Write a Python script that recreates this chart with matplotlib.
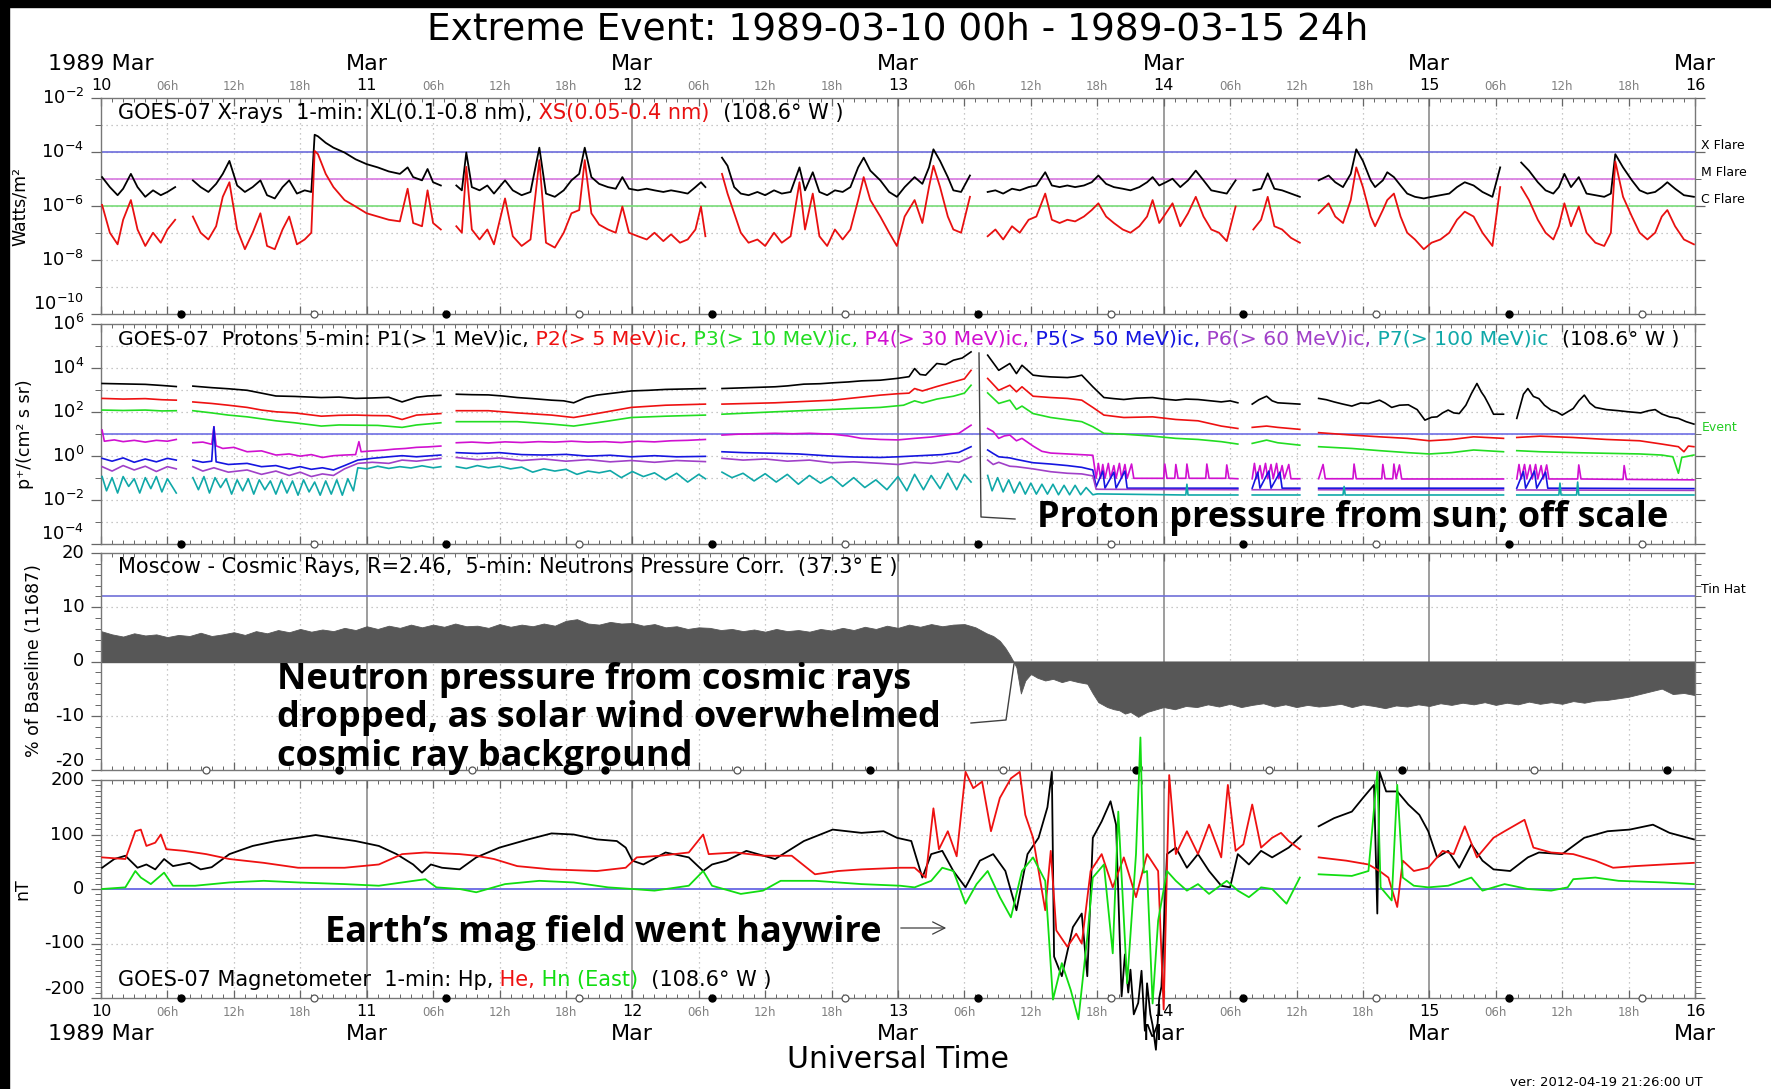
import numpy as np
import matplotlib
matplotlib.use("Agg")
import matplotlib.pyplot as plt
from matplotlib import transforms
from matplotlib.lines import Line2D
from matplotlib.patches import Rectangle, FancyArrowPatch
from matplotlib.ticker import FixedLocator, MultipleLocator

plt.rcParams['font.family'] = ['DejaVu Sans']
plt.rcParams['mathtext.fontset'] = 'dejavusans'
plt.rcParams['axes.unicode_minus'] = False

nan = np.nan

# time axis: hours after 1989-03-10 00h UT
DAY_LABELS = ['10', '11', '12', '13', '14', '15', '16']
MONTH_LABELS = ['1989 Mar', 'Mar', 'Mar', 'Mar', 'Mar', 'Mar', 'Mar']
HOUR_LABELS = ['06h', '12h', '18h']

# local midnight (filled) / noon (open) markers
GOES_MIDNIGHT = [7.2, 31.2, 55.2, 79.2, 103.2, 127.2]
GOES_NOON = [19.2, 43.2, 67.2, 91.2, 115.2, 139.2]
MOSCOW_NOON = [9.5, 33.5, 57.5, 81.5, 105.5, 129.5]
MOSCOW_MIDNIGHT = [21.5, 45.5, 69.5, 93.5, 117.5, 141.5]

# GOES-07 X-rays: (hour, log10 XL, log10 XS) in W/m^2
XRAY = [
    (0.1, -4.93, -5.96), (0.8, -5.30, -6.99), (1.5, -5.60, -7.42), (2.0, -5.36, -6.51), (2.7, -4.81, -5.78),
    (3.3, -5.30, -6.87), (4.0, -5.66, -7.48), (4.7, -5.42, -6.99), (5.4, -5.60, -7.36), (6.0, -5.48, -6.87),
    (6.7, -5.30, -6.51), (7.5, nan, nan),
    (8.3, -5.05, -6.39), (9.0, -5.30, -6.99), (9.7, -5.48, -7.24), (10.4, -5.18, -6.75), (11.0, -4.81, -5.66),
    (11.6, -4.33, -5.12), (12.3, -5.24, -6.87), (13.0, -5.48, -7.60), (13.7, -5.30, -6.99), (14.4, -5.05, -6.27),
    (15.0, -5.60, -7.48), (15.7, -5.72, -7.60), (16.4, -5.30, -6.87), (17.0, -5.05, -6.39), (17.7, -5.54, -7.42),
    (18.4, -5.42, -7.24), (19.0, -5.48, -6.99),
    (19.3, -3.36, -3.96), (19.6, -3.42, -4.08), (20.3, -3.66, -4.81), (21.0, -3.84, -5.30), (22.0, -4.02, -5.78),
    (23.0, -4.27, -6.02), (24.0, -4.45, -6.27), (25.0, -4.57, -6.39), (26.0, -4.72, -6.51), (27.0, -4.81, -6.57),
    (27.7, -4.57, -5.36), (28.2, -4.93, -6.63), (29.0, -5.05, -6.75), (29.5, -4.63, -5.42), (30.0, -5.12, -6.63),
    (30.7, -5.24, -6.87), (31.3, nan, nan),
    (32.1, -5.24, -6.75), (32.6, -5.42, -6.99), (33.0, -4.02, -4.55), (33.5, -5.30, -6.87), (34.2, -5.42, -7.24),
    (34.9, -5.24, -6.87), (35.5, -5.54, -7.42), (36.5, -5.05, -5.72), (37.2, -5.42, -7.12), (38.0, -5.60, -7.48),
    (38.8, -5.48, -7.24), (39.6, -3.84, -4.30), (40.2, -5.54, -7.36), (41.0, -5.66, -7.54), (41.8, -5.42, -6.99),
    (42.5, -5.05, -6.27), (43.2, -4.81, -6.15), (43.7, -3.84, -4.30), (44.3, -4.93, -6.27), (45.0, -5.18, -6.69),
    (45.8, -5.30, -6.87), (46.5, -5.36, -6.99), (47.1, -4.93, -6.02), (47.7, -5.36, -6.99), (48.5, -5.42, -7.12),
    (49.3, -5.36, -7.24), (50.0, -5.42, -6.99), (50.8, -5.48, -7.30), (51.5, -5.42, -7.05), (52.3, -5.48, -7.36),
    (53.0, -5.54, -7.24), (53.7, -5.30, -6.87), (54.2, -5.12, -6.02), (54.6, -5.30, -7.12), (55.3, nan, nan),
    (56.1, -4.21, -4.81), (56.6, -4.51, -5.54), (57.2, -5.30, -6.27), (57.8, -5.54, -6.99), (58.5, -5.60, -7.36),
    (59.3, -5.48, -7.24), (60.0, -5.60, -7.48), (60.8, -5.42, -6.99), (61.5, -5.54, -7.36), (62.3, -5.48, -7.12),
    (63.1, -4.57, -5.12), (63.6, -5.42, -6.87), (64.3, -4.75, -5.54), (64.9, -5.48, -7.12), (65.6, -5.60, -7.48),
    (66.3, -5.42, -6.87), (67.0, -5.48, -7.24), (67.7, -5.30, -6.87), (68.4, -4.57, -5.78), (68.9, -4.21, -4.93),
    (69.5, -4.69, -5.78), (70.4, -5.05, -6.39), (71.2, -5.48, -6.99), (71.9, -5.66, -7.48), (72.6, -5.30, -6.39),
    (73.5, -4.93, -5.78), (74.2, -5.18, -6.63), (74.8, -4.57, -5.30), (75.2, -3.90, -4.51), (75.8, -4.33, -5.30),
    (76.5, -4.93, -6.39), (77.0, -5.42, -6.87), (77.7, -5.48, -6.99), (78.5, -4.87, -5.66), (79.3, nan, nan),
    (80.1, -5.48, -7.12), (80.8, -5.42, -6.87), (81.5, -5.54, -7.24), (82.3, -5.36, -6.75), (83.0, -5.42, -6.99),
    (83.8, -5.30, -6.51), (84.5, -5.24, -6.39), (85.3, -4.75, -5.54), (85.9, -5.24, -6.51), (86.6, -5.30, -6.63),
    (87.3, -5.24, -6.51), (88.0, -5.30, -6.57), (88.8, -5.24, -6.39), (89.5, -5.12, -6.15), (90.1, -4.87, -5.90),
    (90.8, -5.18, -6.39), (91.5, -5.30, -6.63), (92.3, -5.36, -6.87), (93.0, -5.42, -6.99), (93.8, -5.30, -6.75),
    (94.5, -5.12, -6.39), (95.0, -4.93, -5.78), (95.6, -5.24, -6.63), (96.2, -5.12, -6.27), (96.8, -4.99, -5.90),
    (97.5, -5.30, -6.75), (98.2, -5.05, -6.27), (98.9, -4.69, -5.66), (99.6, -5.05, -6.39), (100.3, -5.42, -6.87),
    (101.0, -5.48, -6.99), (101.7, -5.54, -7.30), (102.5, -5.05, -6.02), (103.3, nan, nan),
    (104.1, -5.42, -6.87), (104.8, -5.36, -6.51), (105.4, -4.79, -5.66), (106.0, -5.36, -6.75), (106.7, -5.42, -6.87),
    (107.5, -5.54, -7.18), (108.3, -5.66, -7.36), (109.1, nan, nan),
    (110.0, -5.05, -6.27), (110.9, -4.87, -5.90), (111.5, -5.12, -6.39), (112.2, -5.30, -6.63), (112.9, -4.81, -5.78),
    (113.4, -3.90, -4.57), (114.0, -4.33, -5.30), (114.7, -5.05, -6.39), (115.1, -5.30, -6.75), (115.8, -5.05, -6.15),
    (116.2, -4.75, -5.78), (116.8, -4.93, -5.54), (117.4, -5.24, -6.39), (118.0, -5.54, -6.99), (118.7, -5.66, -7.24),
    (119.5, -5.72, -7.60), (120.2, -5.66, -7.36), (121.0, -5.60, -7.24), (121.8, -5.54, -6.99), (122.5, -5.30, -6.51),
    (123.2, -5.12, -6.21), (124.0, -5.24, -6.39), (124.8, -5.48, -6.99), (125.7, -5.66, -7.48), (126.4, -4.57, -5.30),
    (127.3, nan, nan),
    (128.3, -4.39, -5.30), (129.0, -4.69, -5.78), (129.8, -5.12, -6.51), (130.5, -5.42, -6.99), (131.2, -5.54, -7.24),
    (131.7, -5.30, -6.75), (132.2, -4.81, -5.90), (132.8, -5.30, -6.75), (133.5, -4.93, -6.02), (134.2, -5.54, -6.99),
    (135.0, -5.60, -7.36), (135.8, -5.66, -7.48), (136.4, -5.54, -6.99), (136.8, -4.08, -4.35), (137.5, -4.57, -5.66),
    (138.3, -5.05, -6.39), (139.0, -5.42, -6.99), (139.7, -5.54, -7.24), (140.4, -5.48, -6.99), (141.0, -5.30, -6.39),
    (141.5, -5.12, -6.15), (142.2, -5.36, -6.75), (143.0, -5.60, -7.24), (143.9, -5.66, -7.42),
]

# GOES-07 protons: (hour, log10 flux)
P1 = [
    (0.1, 3.29), (2.0, 3.27), (4.0, 3.25), (5.5, 3.20), (6.8, 3.15), (7.5, nan),
    (8.3, 3.17), (10.0, 3.10), (11.5, 3.05), (13.2, 2.98), (14.5, 2.85), (15.8, 2.72), (17.5, 2.70), (19.9, 2.65),
    (21.5, 2.67), (23.0, 2.61), (24.5, 2.63), (26.0, 2.66), (27.2, 2.45), (28.5, 2.66), (29.5, 2.72), (30.7, 2.75),
    (31.3, nan),
    (32.1, 2.80), (33.5, 2.78), (35.0, 2.77), (36.3, 2.72), (37.6, 2.65), (39.0, 2.60), (40.7, 2.53), (41.8, 2.50),
    (42.7, 2.41), (43.8, 2.65), (44.8, 2.76), (46.3, 2.85), (47.9, 2.95), (49.5, 2.98), (51.0, 3.02), (53.0, 3.04),
    (54.6, 3.06), (55.3, nan),
    (56.1, 3.06), (58.5, 3.10), (60.9, 3.14), (62.0, 3.18), (63.5, 3.26), (65.0, 3.28), (66.1, 3.32), (67.5, 3.36),
    (68.7, 3.41), (70.4, 3.44), (71.9, 3.52), (73.0, 3.60), (73.5, 3.97), (74.0, 3.70), (74.5, 3.67), (75.5, 4.20),
    (76.3, 4.15), (77.0, 4.35), (77.8, 4.45), (78.6, 4.73), (79.3, nan),
    (80.1, 4.58), (81.1, 3.89), (82.1, 4.20), (82.7, 3.74), (83.2, 4.12), (84.2, 3.67), (85.0, 3.62), (85.8, 3.59),
    (87.3, 3.56), (88.0, 3.60), (88.6, 3.67), (89.6, 3.14), (90.6, 2.65), (91.5, 2.60), (92.4, 2.56), (93.5, 2.62),
    (95.0, 2.65), (96.0, 2.58), (97.1, 2.53), (98.0, 2.58), (99.1, 2.56), (100.2, 2.50), (101.2, 2.45), (102.0, 2.50),
    (102.7, 2.41), (103.3, nan),
    (104.0, 2.35), (104.6, 2.55), (105.3, 2.71), (105.8, 2.50), (106.3, 2.41), (107.3, 2.38), (108.3, 2.35),
    (109.1, nan),
    (110.0, 2.61), (110.7, 2.55), (111.4, 2.45), (112.2, 2.35), (113.0, 2.26), (113.8, 2.40), (114.5, 2.38),
    (115.5, 2.53), (116.0, 2.40), (116.6, 2.20), (117.3, 2.30), (118.1, 2.32), (118.9, 2.10), (119.6, 1.62),
    (120.2, 1.75), (120.7, 1.77), (121.2, 1.95), (121.7, 2.08), (122.2, 1.95), (122.7, 1.92), (123.3, 2.30),
    (123.8, 2.83), (124.3, 3.29), (124.7, 2.90), (125.0, 2.68), (125.4, 2.30), (125.8, 1.89), (126.7, 1.89),
    (127.3, nan),
    (127.9, 1.70), (128.5, 2.80), (128.9, 3.06), (129.4, 2.70), (129.9, 2.60), (130.4, 2.30), (131.0, 2.08),
    (131.5, 2.00), (132.0, 1.85), (132.5, 2.00), (133.0, 2.15), (133.5, 2.50), (134.0, 2.76), (134.5, 2.40),
    (135.0, 2.20), (136.0, 2.10), (137.1, 2.05), (138.0, 2.00), (139.1, 1.95), (139.8, 2.05), (140.4, 2.10),
    (141.0, 1.90), (141.7, 1.77), (142.5, 1.70), (143.2, 1.55), (143.9, 1.44),
]
P2 = [
    (0.1, 2.61), (2.0, 2.58), (4.0, 2.60), (5.5, 2.55), (6.8, 2.53), (7.5, nan),
    (8.3, 2.45), (10.0, 2.38), (11.5, 2.30), (13.2, 2.20), (14.5, 2.08), (15.8, 2.00), (17.5, 1.95), (19.9, 1.80),
    (21.5, 1.84), (23.0, 1.85), (24.5, 1.83), (26.0, 1.82), (27.2, 1.65), (28.5, 1.85), (30.7, 1.92), (31.3, nan),
    (32.1, 2.05), (35.0, 2.05), (37.6, 1.95), (40.7, 1.85), (42.7, 1.74), (44.8, 1.92), (47.9, 2.20), (51.0, 2.30),
    (54.6, 2.35), (55.3, nan),
    (56.1, 2.35), (60.9, 2.41), (66.1, 2.53), (70.4, 2.76), (71.9, 2.82), (73.0, 2.85), (73.5, 3.06), (74.2, 2.95),
    (75.5, 3.15), (77.0, 3.36), (78.0, 3.50), (78.6, 3.89), (79.3, nan),
    (80.1, 3.52), (81.1, 2.98), (82.1, 3.21), (82.7, 2.91), (83.2, 3.14), (84.2, 2.71), (85.8, 2.65), (87.3, 2.61),
    (88.6, 2.53), (89.6, 2.20), (90.6, 1.85), (92.4, 1.74), (95.0, 1.77), (97.1, 1.65), (99.1, 1.59), (101.2, 1.35),
    (102.7, 1.24), (103.3, nan),
    (104.0, 1.29), (105.3, 1.35), (106.3, 1.29), (108.3, 1.20), (109.1, nan),
    (110.0, 1.05), (113.0, 0.94), (115.5, 0.86), (118.0, 0.79), (120.0, 0.68), (122.0, 0.74), (124.0, 0.86),
    (126.7, 0.79), (127.3, nan),
    (127.9, 0.83), (130.0, 0.89), (133.0, 0.83), (136.0, 0.74), (139.0, 0.68), (141.0, 0.53), (142.5, 0.41),
    (143.0, 0.18), (143.4, 0.44), (143.9, 0.41),
]
P3 = [
    (0.1, 2.08), (2.0, 2.06), (4.0, 2.08), (5.5, 2.04), (6.8, 2.05), (7.5, nan),
    (8.3, 2.05), (10.0, 1.95), (11.5, 1.85), (13.2, 1.77), (14.5, 1.68), (15.8, 1.59), (17.5, 1.50), (19.9, 1.35),
    (21.5, 1.40), (23.0, 1.39), (25.0, 1.38), (27.2, 1.29), (28.5, 1.40), (30.7, 1.50), (31.3, nan),
    (32.1, 1.55), (35.0, 1.55), (37.6, 1.55), (40.7, 1.44), (42.7, 1.35), (44.8, 1.50), (47.9, 1.74), (51.0, 1.80),
    (54.6, 1.85), (55.3, nan),
    (56.1, 1.89), (60.9, 2.00), (66.1, 2.11), (70.4, 2.20), (72.5, 2.30), (73.5, 2.50), (74.2, 2.40), (75.5, 2.58),
    (77.0, 2.71), (78.0, 2.85), (78.6, 3.21), (79.3, nan),
    (80.1, 2.86), (81.1, 2.38), (82.1, 2.53), (82.7, 2.11), (83.2, 2.26), (84.2, 1.92), (85.8, 1.74), (88.6, 1.55),
    (89.6, 1.32), (90.6, 1.02), (92.4, 0.98), (95.0, 0.89), (97.1, 0.79), (99.1, 0.74), (101.2, 0.64), (102.7, 0.53),
    (103.3, nan),
    (104.0, 0.56), (105.3, 0.71), (106.3, 0.59), (108.3, 0.48), (109.1, nan),
    (110.0, 0.41), (113.0, 0.33), (115.5, 0.23), (118.0, 0.14), (120.0, 0.08), (122.0, 0.14), (124.0, 0.26),
    (126.7, 0.18), (127.3, nan),
    (127.9, 0.23), (130.0, 0.18), (133.0, 0.14), (136.0, 0.11), (139.0, 0.08), (141.0, 0.03), (142.0, -0.05),
    (142.5, -0.80), (142.8, -0.08), (143.9, 0.03),
]
P4 = [
    (0.1, 1.17), (0.3, 0.66), (1.2, 0.72), (2.0, 0.64), (3.0, 0.70), (4.0, 0.62), (5.0, 0.70), (6.0, 0.66),
    (6.8, 0.74), (7.5, nan),
    (8.3, 0.59), (9.2, 0.62), (10.0, 0.52), (10.2, 1.32), (10.4, 0.45), (11.0, 0.33), (12.0, 0.38), (13.2, 0.18),
    (14.5, 0.22), (15.8, 0.03), (17.0, 0.08), (18.0, -0.02), (19.0, 0.05), (20.0, -0.08), (21.0, 0.00), (22.0, 0.03),
    (23.0, 0.05), (23.3, 0.64), (23.5, 0.18), (24.5, 0.22), (25.5, 0.25), (26.5, 0.30), (27.5, 0.33), (28.5, 0.38),
    (29.5, 0.40), (30.7, 0.44), (31.3, nan),
    (32.1, 0.59), (33.5, 0.62), (35.0, 0.58), (36.5, 0.63), (38.0, 0.60), (39.5, 0.64), (41.0, 0.62), (42.5, 0.66),
    (44.0, 0.62), (45.5, 0.64), (47.0, 0.60), (48.5, 0.66), (50.0, 0.63), (51.5, 0.68), (53.0, 0.70), (54.6, 0.74),
    (55.3, nan),
    (56.1, 0.94), (57.5, 0.98), (59.0, 1.00), (60.9, 1.02), (62.5, 1.00), (64.0, 1.02), (66.1, 0.98), (67.5, 0.90),
    (68.7, 0.79), (70.4, 0.74), (72.0, 0.72), (73.5, 0.79), (75.0, 0.85), (76.5, 0.95), (77.5, 1.02), (78.6, 1.39),
    (79.3, nan),
    (80.1, 1.24), (80.6, 1.10), (81.1, 0.79), (81.6, 0.90), (82.1, 0.94), (82.7, 0.68), (83.2, 0.79), (84.2, 0.44),
    (85.0, 0.20), (85.8, 0.12), (87.3, 0.08), (88.6, 0.05), (89.6, 0.02),
    (89.9, -1.03), (90.1, -0.35), (90.3, -1.03), (90.5, -0.40), (90.7, -1.03), (91.0, -0.35), (91.2, -1.03),
    (91.5, -0.45), (91.7, -1.03), (92.0, -0.35), (92.2, -1.03), (92.5, -0.40), (92.7, -1.03), (93.1, -0.38),
    (93.3, -1.03), (96.0, -1.03), (96.1, -0.38), (96.3, -1.03), (97.0, -1.03), (97.1, -0.40), (97.3, -1.03),
    (98.0, -1.03), (98.1, -0.38), (98.3, -1.03), (99.8, -1.03), (99.9, -0.38), (100.1, -1.03), (101.6, -1.03),
    (101.7, -0.42), (101.9, -1.03), (102.7, -1.05), (103.3, nan),
    (104.0, -1.05), (104.2, -0.35), (104.4, -1.05), (104.7, -0.45), (104.9, -1.05), (105.2, -0.35), (105.4, -1.05),
    (105.7, -0.40), (105.9, -1.05), (106.2, -0.35), (106.4, -1.05), (106.7, -0.45), (106.9, -1.05), (107.3, -0.40),
    (107.5, -1.05), (108.3, -1.05), (109.1, nan),
    (110.0, -1.05), (110.4, -0.40), (110.6, -1.05), (113.1, -1.05), (113.2, -0.38), (113.4, -1.05), (115.7, -1.05),
    (115.8, -0.40), (116.0, -1.05), (116.7, -1.05), (116.8, -0.38), (117.0, -1.05), (117.3, -0.42), (117.5, -1.06),
    (126.7, -1.06), (127.3, nan),
    (127.9, -1.06), (128.1, -0.40), (128.3, -1.06), (128.6, -0.40), (128.8, -1.06), (129.1, -0.42), (129.3, -1.06),
    (129.6, -0.40), (129.8, -1.06), (130.1, -0.45), (130.3, -1.06), (130.6, -0.42), (130.8, -1.06), (133.4, -1.06),
    (133.5, -0.42), (133.7, -1.06), (137.5, -1.08), (137.6, -0.45), (137.8, -1.08), (143.9, -1.10),
]
P5 = [
    (0.1, -0.12), (1.0, -0.25), (2.0, -0.10), (3.0, -0.30), (4.0, -0.15), (5.0, -0.28), (6.0, -0.12), (6.8, -0.20),
    (7.5, nan),
    (8.3, -0.20), (9.2, -0.30), (10.0, -0.25), (10.2, 1.32), (10.4, -0.28), (11.5, -0.40), (13.2, -0.35),
    (14.5, -0.50), (15.8, -0.45), (17.0, -0.60), (18.0, -0.50), (19.0, -0.62), (20.0, -0.55), (21.0, -0.65),
    (22.0, -0.45), (23.2, -0.20), (24.5, -0.12), (26.0, -0.05), (27.2, 0.00), (28.5, -0.05), (30.7, 0.03),
    (31.3, nan),
    (32.1, 0.14), (34.0, 0.10), (36.0, 0.14), (38.0, 0.05), (40.0, 0.03), (42.0, 0.06), (44.0, -0.02), (46.0, 0.02),
    (47.9, -0.05), (50.0, 0.00), (52.0, -0.05), (54.6, -0.03), (55.3, nan),
    (56.1, 0.18), (58.0, 0.14), (60.9, 0.11), (63.0, 0.08), (66.1, -0.02), (68.0, -0.06), (70.4, -0.08),
    (72.0, -0.05), (74.0, 0.00), (76.0, 0.05), (77.5, 0.15), (78.6, 0.41), (79.3, nan),
    (80.1, 0.26), (80.6, 0.10), (81.1, -0.05), (82.1, -0.10), (82.7, -0.17), (84.2, -0.32), (85.8, -0.38),
    (87.3, -0.45), (88.6, -0.53), (89.6, -0.65),
    (89.9, -1.41), (90.5, -0.70), (90.7, -1.48), (91.5, -0.75), (91.7, -1.48), (92.5, -0.70), (92.7, -1.48),
    (102.7, -1.48), (103.3, nan),
    (104.0, -1.48), (104.5, -0.75), (104.7, -1.48), (105.5, -0.70), (105.7, -1.48), (106.5, -0.75), (106.7, -1.48),
    (108.3, -1.48), (109.1, nan),
    (110.0, -1.48), (126.7, -1.48), (127.3, nan),
    (127.9, -1.48), (128.5, -0.72), (128.7, -1.48), (129.5, -0.70), (129.7, -1.48), (130.5, -0.75), (130.7, -1.48),
    (143.9, -1.50),
]
P6 = [
    (0.1, -0.50), (1.0, -0.70), (2.0, -0.45), (3.0, -0.65), (4.0, -0.48), (5.0, -0.72), (6.0, -0.50), (6.8, -0.60),
    (7.5, nan),
    (8.3, -0.50), (9.2, -0.70), (10.2, -0.55), (11.5, -0.75), (13.2, -0.65), (14.5, -0.85), (15.8, -0.70),
    (17.0, -0.90), (18.0, -0.75), (19.0, -0.95), (20.0, -0.83), (21.0, -0.90), (22.0, -0.60), (23.2, -0.35),
    (24.5, -0.30), (26.0, -0.35), (27.2, -0.20), (28.5, -0.25), (30.7, -0.12), (31.3, nan),
    (32.1, -0.08), (34.0, -0.18), (36.0, -0.10), (38.0, -0.22), (40.0, -0.15), (42.0, -0.25), (44.0, -0.18),
    (46.0, -0.28), (47.9, -0.22), (50.0, -0.30), (52.0, -0.22), (54.6, -0.27), (55.3, nan),
    (56.1, -0.12), (58.0, -0.20), (60.0, -0.15), (62.0, -0.25), (64.0, -0.20), (66.0, -0.32), (68.0, -0.28),
    (70.4, -0.35), (72.0, -0.40), (73.5, -0.30), (75.0, -0.35), (76.5, -0.25), (77.5, -0.30), (78.6, -0.05),
    (79.3, nan),
    (80.1, -0.20), (80.6, -0.40), (81.1, -0.30), (82.1, -0.48), (82.7, -0.50), (84.2, -0.60), (85.8, -0.73),
    (87.3, -0.80), (88.6, -0.83), (89.6, -0.92),
    (89.9, -1.53), (102.7, -1.55), (103.3, nan), (104.0, -1.55), (108.3, -1.55), (109.1, nan),
    (110.0, -1.55), (126.7, -1.56), (127.3, nan), (127.9, -1.56), (143.9, -1.58),
]
P7 = [
    (0.1, -0.95), (0.5, -1.60), (1.0, -1.00), (1.5, -1.70), (2.0, -0.95), (2.5, -1.40), (3.0, -1.05), (3.5, -1.70),
    (4.0, -1.00), (4.5, -1.50), (5.0, -0.95), (5.5, -1.65), (6.0, -1.05), (6.8, -1.70), (7.5, nan),
    (8.3, -1.00), (8.8, -1.55), (9.3, -0.95), (9.8, -1.70), (10.3, -1.00), (10.8, -1.45), (11.3, -1.05),
    (11.8, -1.75), (12.3, -1.10), (12.8, -1.60), (13.3, -1.05), (13.8, -1.75), (14.3, -1.10), (14.8, -1.55),
    (15.3, -1.15), (15.8, -1.75), (16.3, -1.10), (16.8, -1.70), (17.3, -1.15), (17.8, -1.80), (18.3, -1.10),
    (18.8, -1.65), (19.3, -1.20), (19.8, -1.80), (20.3, -1.15), (20.8, -1.75), (21.3, -1.10), (21.8, -1.80),
    (22.3, -1.05), (22.8, -1.60), (23.2, -0.55), (24.0, -0.60), (25.0, -0.48), (26.0, -0.58), (27.0, -0.50),
    (28.0, -0.56), (29.0, -0.46), (30.0, -0.55), (30.7, -0.50), (31.3, nan),
    (32.1, -0.50), (33.0, -0.58), (34.0, -0.45), (35.0, -0.55), (36.0, -0.48), (37.0, -0.60), (38.0, -0.52),
    (39.0, -0.75), (40.0, -0.60), (41.0, -0.70), (42.0, -0.62), (43.0, -0.85), (44.0, -0.70), (45.0, -0.78),
    (46.0, -0.68), (47.0, -1.00), (48.0, -0.72), (49.0, -0.95), (50.0, -0.78), (51.0, -1.10), (52.0, -0.80),
    (53.0, -1.20), (54.0, -0.85), (54.6, -1.05), (55.3, nan),
    (56.1, -0.75), (57.0, -1.00), (58.0, -0.80), (59.0, -1.15), (60.0, -0.82), (61.0, -1.20), (62.0, -0.85),
    (63.0, -1.30), (64.0, -0.90), (65.0, -1.25), (66.0, -0.95), (67.0, -1.40), (68.0, -1.00), (69.0, -1.45),
    (70.0, -1.10), (71.0, -1.55), (72.0, -0.95), (72.8, -1.60), (73.5, -0.85), (74.3, -1.55), (75.0, -0.90),
    (75.8, -1.50), (76.5, -0.80), (77.3, -1.55), (78.0, -0.85), (78.6, -1.20), (79.3, nan),
    (80.1, -0.90), (80.5, -1.60), (81.0, -1.00), (81.5, -1.65), (82.0, -1.10), (82.5, -1.70), (83.0, -1.20),
    (83.5, -1.75), (84.0, -1.25), (84.5, -1.75), (85.0, -1.30), (85.5, -1.75), (86.0, -1.30), (86.5, -1.78),
    (87.0, -1.35), (87.5, -1.78), (88.0, -1.35), (88.5, -1.78), (89.0, -1.45), (89.6, -1.78),
    (90.0, -1.74), (98.0, -1.79), (98.1, -1.30), (98.2, -1.79), (102.7, -1.79), (103.3, nan),
    (104.0, -1.79), (108.3, -1.79), (109.1, nan),
    (110.0, -1.79), (112.2, -1.79), (112.3, -1.40), (112.4, -1.79), (126.7, -1.79), (127.3, nan),
    (127.9, -1.79), (131.7, -1.79), (131.8, -1.25), (131.9, -1.79), (133.3, -1.79), (133.4, -1.20), (133.5, -1.79),
    (143.9, -1.79),
]

# Moscow neutron monitor, % of baseline
NEUTRON = [
    (0, 5.6), (1, 5.0), (2, 4.6), (3, 5.2), (4, 4.8), (5, 5.0), (6, 4.5), (7, 4.9), (8, 4.7), (9, 5.3), (10, 4.7),
    (11, 5.0), (12, 5.4), (13, 4.9), (14, 5.6), (15, 5.2), (16, 5.8), (17, 5.4), (18, 6.0), (19, 5.5), (20, 5.9),
    (21, 5.6), (22, 6.2), (23, 5.8), (24, 6.5), (25, 6.0), (26, 6.6), (27, 6.2), (28, 6.8), (29, 6.3), (30, 6.8),
    (31, 6.4), (32, 7.0), (33, 6.5), (34, 6.6), (35, 6.2), (36, 6.9), (37, 6.4), (38, 6.8), (39, 6.5), (40, 7.0),
    (41, 6.6), (42, 7.5), (43, 7.8), (44, 7.0), (45, 6.8), (46, 7.3), (47, 7.0), (48, 7.1), (49, 6.6), (50, 6.9),
    (51, 6.3), (52, 6.5), (53, 6.0), (54, 6.3), (55, 6.2), (56, 5.8), (57, 6.0), (58, 5.6), (59, 5.9), (60, 5.5),
    (61, 6.0), (62, 5.6), (63, 5.8), (64, 5.5), (65, 6.0), (66, 5.7), (67, 6.2), (68, 5.8), (69, 6.4), (70, 6.0),
    (71, 6.6), (72, 6.2), (73, 6.8), (74, 6.4), (75, 6.9), (76, 6.5), (77, 6.8), (78, 6.9), (79, 6.3), (80, 5.2),
    (80.6, 4.7), (81.2, 3.8), (81.7, 2.5), (82.1, 1.2), (82.4, 0.1), (82.7, -1.1), (83.1, -5.9), (83.5, -3.5),
    (84.0, -2.3), (84.6, -3.0), (85.3, -3.5), (86.0, -3.2), (86.8, -3.8), (87.5, -3.4), (88.3, -3.8), (89.1, -4.1),
    (89.6, -5.9), (90.1, -7.5), (90.9, -8.4), (91.5, -8.8), (92.0, -9.0), (92.5, -9.6), (93.0, -9.3), (93.7, -10.2),
    (94.5, -9.3), (95.5, -8.7),
    (96, -8.4), (97, -8.8), (98, -8.2), (99, -8.4), (100, -7.9), (101, -8.3), (102, -7.8), (103, -8.4), (104, -8.0),
    (105, -7.7), (106, -8.3), (107, -7.9), (108, -8.4), (109, -8.0), (110, -8.3), (111, -8.1), (112, -7.8),
    (113, -8.4), (114, -7.9), (115, -8.2), (116, -8.6), (117, -8.1), (118, -8.3), (119, -7.9), (120, -8.2),
    (121, -7.7), (122, -8.0), (123, -7.6), (124, -7.9), (125, -7.5), (126, -8.0), (127, -7.6), (128, -7.9),
    (129, -7.4), (130, -7.8), (131, -7.5), (132, -7.8), (133, -7.3), (134, -7.6), (135, -7.2), (136, -7.1),
    (137, -6.8), (138, -6.5), (139, -6.0), (140, -5.5), (141, -5.0), (142, -6.0), (143, -5.8), (144, -6.2),
]

# GOES-07 magnetometer, nT
HP = [
    (0.1, 39), (1.2, 55), (2.2, 61), (3.3, 39), (4.1, 45), (4.9, 36), (5.7, 55), (6.5, 42), (8.0, 48), (9.0, 36),
    (10.0, 40), (11.6, 64), (13.7, 79), (15.8, 88), (17.8, 94), (19.4, 99), (21.0, 94), (23.0, 88), (25.1, 79),
    (26.7, 64), (28.2, 45), (29.0, 30), (29.8, 45), (30.8, 39), (32.4, 36), (33.9, 58), (36.0, 76), (38.6, 91),
    (40.7, 102), (42.7, 100), (44.8, 91), (46.6, 88), (47.4, 76), (48.0, 52), (49.0, 45), (51.0, 67), (53.1, 58),
    (54.4, 33), (55.2, 45), (56.5, 52), (58.3, 70), (60.9, 55), (63.5, 88), (66.1, 109), (68.7, 103), (70.7, 106),
    (71.9, 94), (73.2, 88), (74.2, 21), (75.0, 64), (76.0, 70), (77.0, 33), (78.1, 3), (79.4, 52), (80.6, 64),
    (81.7, 33), (82.7, -39), (83.7, 64), (84.7, 94), (85.5, 150), (85.9, 215), (86.1, -124), (86.8, -160),
    (87.8, -70), (88.6, -45), (89.1, -160), (89.6, 94), (90.4, 124), (91.2, 161), (91.7, 118), (92.2, -197),
    (92.5, -120), (92.8, -190), (93.0, -148), (93.3, -230), (93.7, -209), (94.0, -150), (94.3, -260), (94.5, -173),
    (94.8, -230), (95.0, -250), (95.3, -295), (95.6, -200), (95.8, -179), (96.3, 64), (97.1, 76), (98.1, 39),
    (99.1, 64), (100.1, 33), (101.2, 6), (102.0, 3), (102.7, 64), (103.7, 45), (104.8, 70), (105.8, 58),
    (107.3, 76), (108.4, 97), (109.2, nan),
    (110.0, 115), (111.4, 130), (113.0, 142), (114.0, 167), (115.0, 191), (115.3, -45), (115.5, 215), (116.1, 179),
    (117.1, 179), (118.1, 155), (119.1, 136), (119.9, 106), (120.7, 58), (121.7, 70), (122.7, 39), (123.8, 82),
    (124.8, 52), (125.8, 36), (127.3, 33), (128.9, 58), (129.9, 67), (132.0, 64), (134.0, 94), (136.1, 106),
    (138.1, 109), (140.2, 118), (141.7, 103), (143.9, 91),
]
HE = [
    (0.1, 58), (2.2, 55), (3.1, 106), (3.6, 109), (4.1, 79), (4.9, 85), (5.4, 100), (5.9, 73), (7.5, 70), (9.5, 64),
    (11.6, 55), (14.7, 48), (17.8, 39), (22.0, 39), (25.1, 45), (27.2, 64), (29.3, 67), (32.4, 64), (33.9, 61),
    (35.5, 55), (37.6, 42), (40.7, 36), (44.8, 33), (47.4, 39), (48.4, 58), (50.5, 61), (53.1, 67), (54.4, 100),
    (54.9, 64), (57.3, 67), (59.8, 61), (62.4, 61), (64.5, 27), (66.6, 33), (68.7, 36), (72.2, 39), (73.5, 39),
    (74.5, 21), (75.2, 148), (75.7, 73), (76.5, 106), (77.3, 60), (78.1, 215), (78.8, 185), (79.6, 197),
    (80.4, 106), (81.2, 167), (82.2, 203), (83.0, 215), (83.5, 136), (84.2, 94), (85.3, -39), (85.8, 70),
    (86.3, -76), (87.3, -106), (88.1, -82), (88.6, -100), (89.4, 33), (90.4, 64), (91.4, 3), (92.4, 58),
    (93.5, -15), (94.5, 64), (95.5, 33), (96.0, -221), (96.5, 209), (97.1, 64), (98.1, 106), (99.1, 64),
    (100.1, 118), (101.2, 58), (101.8, 191), (102.5, 70), (103.2, 82), (104.0, 155), (104.8, 76), (105.8, 94),
    (106.6, 103), (107.3, 88), (108.3, 73), (109.2, nan),
    (110.0, 58), (112.5, 52), (114.5, 45), (115.5, 33), (116.3, 21), (117.1, -33), (117.6, 52), (118.6, 33),
    (119.9, 39), (121.2, 70), (122.2, 64), (123.2, 115), (124.3, 58), (125.8, 94), (126.8, 106), (128.6, 127),
    (129.4, 76), (131.0, 67), (133.0, 64), (135.0, 52), (136.6, 39), (138.6, 42), (141.2, 45), (143.9, 48),
]
HN = [
    (0.1, 0), (2.2, 3), (3.1, 33), (3.6, 21), (4.5, 9), (5.7, 30), (6.5, 6), (8.5, 6), (11.6, 12), (14.7, 15),
    (17.8, 12), (22.0, 9), (25.1, 6), (29.3, 18), (30.3, 3), (32.4, 0), (33.9, -6), (36.5, 9), (39.6, 15),
    (42.7, 12), (45.8, 3), (48.0, 0), (50.0, -3), (53.1, 6), (54.4, 33), (55.2, 6), (57.8, -9), (59.8, -3),
    (61.4, 15), (64.5, 15), (68.7, 9), (72.2, 6), (73.5, 3), (75.0, 15), (76.0, 39), (77.0, 33), (78.1, -27),
    (79.1, 9), (80.1, 33), (81.2, -15), (82.2, -52), (83.2, 33), (84.2, 58), (85.3, 15), (86.0, -203),
    (86.8, -136), (87.6, -185), (88.3, -239), (89.1, -88), (89.6, 21), (90.6, 45), (91.4, -118), (91.9, 142),
    (92.7, -173), (93.5, 64), (93.9, 278), (94.2, 30), (94.5, 33), (95.0, -210), (95.5, -58), (96.3, 33),
    (97.1, 15), (98.1, -3), (99.1, 9), (100.1, -9), (101.7, 15), (102.7, -3), (103.7, -15), (104.8, 3),
    (105.8, 0), (107.1, -27), (108.3, 21), (109.2, nan),
    (110.0, 27), (113.0, 24), (114.5, 33), (115.3, 215), (115.6, 3), (116.6, -21), (117.1, 191), (117.6, 21),
    (118.6, 6), (119.9, 3), (121.7, 6), (123.8, 21), (124.8, -3), (126.8, 9), (128.9, 0), (131.0, -3),
    (132.5, 3), (133.0, 18), (135.0, 21), (137.1, 15), (141.2, 12), (143.9, 9),
]

# ---------------------------------------------------------------------------
W, H = 1771, 1089
fig = plt.figure(figsize=(W / 100, H / 100), dpi=100)


def rect(top, bottom, left=101, right=1695):
    return [left / W, 1 - bottom / H, (right - left) / W, (bottom - top) / H]


def fy(px):
    return 1 - px / H


ax1 = fig.add_axes(rect(98, 314))
ax2 = fig.add_axes(rect(324, 543.5))
ax3 = fig.add_axes(rect(553, 770))
ax4 = fig.add_axes(rect(780, 998))

GRID = '#b5b5b5'
DAYLINE = '#8c8c8c'
TICKSIZE = 13


def series(pairs):
    a = np.array(pairs, dtype=float)
    return a[:, 0], a[:, 1]


def style(ax, hgrid):
    ax.set_xlim(0, 144)
    ax.xaxis.set_major_locator(MultipleLocator(6))
    ax.xaxis.set_minor_locator(MultipleLocator(1))
    ax.tick_params(axis='x', which='both', direction='in', top=True, bottom=True,
                   labelbottom=False, color='#666666')
    ax.tick_params(axis='x', which='major', length=6, width=0.9)
    ax.tick_params(axis='x', which='minor', length=3, width=0.7)
    ax.tick_params(axis='y', which='both', direction='out', left=True, right=True,
                   labelleft=False, color='#666666')
    ax.tick_params(axis='y', which='major', length=7, width=0.9)
    ax.tick_params(axis='y', which='minor', length=4, width=0.7)
    for s in ax.spines.values():
        s.set_color('#777777')
        s.set_linewidth(1.0)
    for h in range(6, 144, 6):
        if h % 24:
            ax.axvline(h, color=GRID, ls=(0, (1, 3)), lw=0.9, zorder=0)
        else:
            ax.axvline(h, color=DAYLINE, lw=1.2, zorder=0.5)
    for y in hgrid:
        ax.axhline(y, color=GRID, ls=(0, (1, 3)), lw=0.9, zorder=0)


def yticks(ax, vals, labels):
    ax.yaxis.set_major_locator(FixedLocator(vals))
    tr = transforms.blended_transform_factory(ax.transAxes, ax.transData)
    for i, (v, lab) in enumerate(zip(vals, labels)):
        ax.text(-0.0105, v, lab, transform=tr, ha='right', va='bottom' if i == 0 else 'center',
                fontsize=TICKSIZE)


def markers(ax, filled, hollow):
    tr = transforms.blended_transform_factory(ax.transData, ax.transAxes)
    ax.plot(filled, [0] * len(filled), 'o', ms=5, color='black', transform=tr, clip_on=False, zorder=5)
    ax.plot(hollow, [0] * len(hollow), 'o', ms=5, mfc='white', mec='#555555', mew=0.9,
            transform=tr, clip_on=False, zorder=5)


def chain(ax, x, y, parts, size=15):
    txt = None
    for s, c in parts:
        if txt is None:
            txt = ax.text(x, y, s, color=c, fontsize=size, transform=ax.transAxes,
                          va='center', ha='left', zorder=6)
        else:
            txt = ax.annotate(s, xy=(1, 0.5), xycoords=txt, color=c, fontsize=size,
                              va='center', ha='left', zorder=6)


def side_label(ax, y, s, color='black'):
    tr = transforms.blended_transform_factory(ax.transAxes, ax.transData)
    ax.text(1.004, y, s, transform=tr, fontsize=9, color=color, va='bottom', ha='left')


# ---- panel 1: X-rays
xr = np.array(XRAY, dtype=float)
ax1.set_yscale('log')
ax1.set_ylim(1e-10, 1e-2)
style(ax1, [1e-9, 1e-8, 1e-7, 1e-6, 1e-5, 1e-4, 1e-3])
yticks(ax1, [1e-10, 1e-8, 1e-6, 1e-4, 1e-2],
       [r'$10^{-10}$', r'$10^{-8}$', r'$10^{-6}$', r'$10^{-4}$', r'$10^{-2}$'])
ax1.yaxis.set_minor_locator(FixedLocator([1e-9, 1e-7, 1e-5, 1e-3]))
ax1.axhline(1e-4, color='#6c6cdc', lw=1.2, zorder=1)
ax1.axhline(1e-5, color='#d878e0', lw=1.2, zorder=1)
ax1.axhline(1e-6, color='#78dc78', lw=1.2, zorder=1)
ax1.plot(xr[:, 0], 10 ** xr[:, 1], color='black', lw=1.3, zorder=3)
ax1.plot(xr[:, 0], 10 ** xr[:, 2], color='#e81010', lw=1.3, zorder=3)
side_label(ax1, 1e-4, 'X Flare')
side_label(ax1, 1e-5, 'M Flare')
side_label(ax1, 1e-6, 'C Flare')
markers(ax1, GOES_MIDNIGHT, GOES_NOON)
chain(ax1, 0.0107, 0.93, [('GOES-07 X-rays  1-min: XL(0.1-0.8 nm),', 'black'),
                          (' XS(0.05-0.4 nm)', '#e81010'),
                          ('  (108.6° W )', 'black')])

# ---- panel 2: protons
ax2.set_yscale('log')
ax2.set_ylim(1e-4, 1e6)
style(ax2, [10.0 ** k for k in range(-3, 6)])
yticks(ax2, [1e-4, 1e-2, 1e0, 1e2, 1e4, 1e6],
       [r'$10^{-4}$', r'$10^{-2}$', r'$10^{0}$', r'$10^{2}$', r'$10^{4}$', r'$10^{6}$'])
ax2.yaxis.set_minor_locator(FixedLocator([1e-3, 1e-1, 1e1, 1e3, 1e5]))
ax2.axhline(10, color='#7070e4', lw=1.2, zorder=1)
PCOL = ['black', '#ee1111', '#22dd22', '#d010d0', '#1515e0', '#a040c8', '#10a8a8']
for pairs, c in zip([P1, P2, P3, P4, P5, P6, P7], PCOL):
    t, v = series(pairs)
    ax2.plot(t, 10 ** v, color=c, lw=1.2, zorder=3)
side_label(ax2, 10, 'Event', color='#22cc22')
markers(ax2, GOES_MIDNIGHT, GOES_NOON)
chain(ax2, 0.0107, 0.932, [('GOES-07  Protons 5-min: P1(> 1 MeV)ic,', 'black'),
                           (' P2(> 5 MeV)ic,', '#ee1111'),
                           (' P3(> 10 MeV)ic,', '#22dd22'),
                           (' P4(> 30 MeV)ic,', '#d010d0'),
                           (' P5(> 50 MeV)ic,', '#1515e0'),
                           (' P6(> 60 MeV)ic,', '#a040c8'),
                           (' P7(> 100 MeV)ic', '#10a8a8'),
                           ('  (108.6° W )', 'black')], size=14.7)

# ---- panel 3: neutrons
ax3.set_ylim(-20, 20)
style(ax3, [-10, 10])
yticks(ax3, [-20, -10, 0, 10, 20], ['-20', '-10', '0', '10', '20'])
ax3.yaxis.set_minor_locator(MultipleLocator(2))
t, v = series(NEUTRON)
ax3.fill_between(t, 0, v, color='#575757', lw=0.6, edgecolor='#575757', zorder=2)
ax3.axhline(0, color='#575757', lw=1.0, zorder=2)
ax3.axhline(12, color='#7070d8', lw=1.2, zorder=1)
side_label(ax3, 12, 'Tin Hat')
markers(ax3, MOSCOW_MIDNIGHT, MOSCOW_NOON)
chain(ax3, 0.0107, 0.935, [('Moscow - Cosmic Rays, R=2.46,  5-min: Neutrons Pressure Corr.  (37.3° E )',
                            'black')])

# ---- panel 4: magnetometer
ax4.set_ylim(-200, 200)
style(ax4, [-100, 100])
yticks(ax4, [-200, -100, 0, 100, 200], ['-200', '-100', '0', '100', '200'])
ax4.yaxis.set_minor_locator(MultipleLocator(10))
ax4.axhline(0, color='#5a5ae0', lw=1.2, zorder=1)
for pairs, c in zip([HP, HE, HN], ['black', '#ee1111', '#11dd11']):
    t, v = series(pairs)
    ax4.plot(t, v, color=c, lw=1.3, zorder=3, clip_on=False)
markers(ax4, GOES_MIDNIGHT, GOES_NOON)
chain(ax4, 0.0107, 0.083, [('GOES-07 Magnetometer  1-min: Hp,', 'black'),
                           (' He,', '#ee1111'),
                           (' Hn (East)', '#11dd11'),
                           ('  (108.6° W )', 'black')])

# ---- axis labels
fig.text(20 / W, fy(206), 'Watts/m²', rotation=90, ha='center', va='center', fontsize=12.5)
fig.text(25 / W, fy(434), 'p⁺/(cm² s sr)', rotation=90, ha='center', va='center', fontsize=12.5)
fig.text(34 / W, fy(661), '% of Baseline (11687)', rotation=90, ha='center', va='center', fontsize=12.5)
fig.text(22 / W, fy(889), 'nT', rotation=90, ha='center', va='center', fontsize=12.5)

trx = transforms.blended_transform_factory(ax1.transData, fig.transFigure)
for i, (d, m) in enumerate(zip(DAY_LABELS, MONTH_LABELS)):
    h = 24 * i
    ax1.text(h, fy(64), m, transform=trx, ha='center', va='center', fontsize=16)
    ax1.text(h, fy(85), d, transform=trx, ha='center', va='center', fontsize=11.5)
    ax1.text(h, fy(1012), d, transform=trx, ha='center', va='center', fontsize=11.5)
    ax1.text(h, fy(1034), m, transform=trx, ha='center', va='center', fontsize=16)
    if i < 6:
        for j, lab in enumerate(HOUR_LABELS):
            hh = h + 6 * (j + 1)
            ax1.text(hh, fy(87), lab, transform=trx, ha='center', va='center', fontsize=8.5, color='#808080')
            ax1.text(hh, fy(1012), lab, transform=trx, ha='center', va='center', fontsize=8.5, color='#808080')

fig.text(898 / W, fy(30), 'Extreme Event: 1989-03-10 00h - 1989-03-15 24h', ha='center', va='center', fontsize=27)
fig.text(898 / W, fy(1059), 'Universal Time', ha='center', va='center', fontsize=21.5)
fig.text(1703 / W, fy(1082), 'ver: 2012-04-19 21:26:00 UT', ha='right', va='center', fontsize=9.5)

# ---- annotations
ann = dict(family=['Open Sans', 'DejaVu Sans'], weight='bold', fontsize=26, color='black', ha='left', va='center',
           zorder=10)
fig.text(1037 / W, fy(518), 'Proton pressure from sun; off scale', **ann)
fig.text(277 / W, fy(680), 'Neutron pressure from cosmic rays', **ann)
fig.text(277 / W, fy(718), 'dropped, as solar wind overwhelmed', **ann)
fig.text(277 / W, fy(757), 'cosmic ray background', **ann)
fig.text(325 / W, fy(933), 'Earth’s mag field went haywire', **ann)

for xs, ys in [([979, 981, 1015], [353, 517, 519]), ([971, 1006, 1014], [723, 720, 664])]:
    fig.add_artist(Line2D([x / W for x in xs], [fy(y) for y in ys], transform=fig.transFigure,
                          color='#404040', lw=1.0, zorder=10))
fig.add_artist(FancyArrowPatch((898 / W, fy(928)), (949 / W, fy(928)), transform=fig.transFigure,
                               arrowstyle='->', mutation_scale=22, lw=0.9, color='#404040', zorder=10))

# black frame bits along top and left edge
fig.add_artist(Rectangle((0, fy(7)), 1, 7 / H, transform=fig.transFigure, color='black', zorder=20))
fig.add_artist(Rectangle((0, 0), 9 / W, 1, transform=fig.transFigure, color='black', zorder=20))

fig.savefig('out.png', dpi=100)
